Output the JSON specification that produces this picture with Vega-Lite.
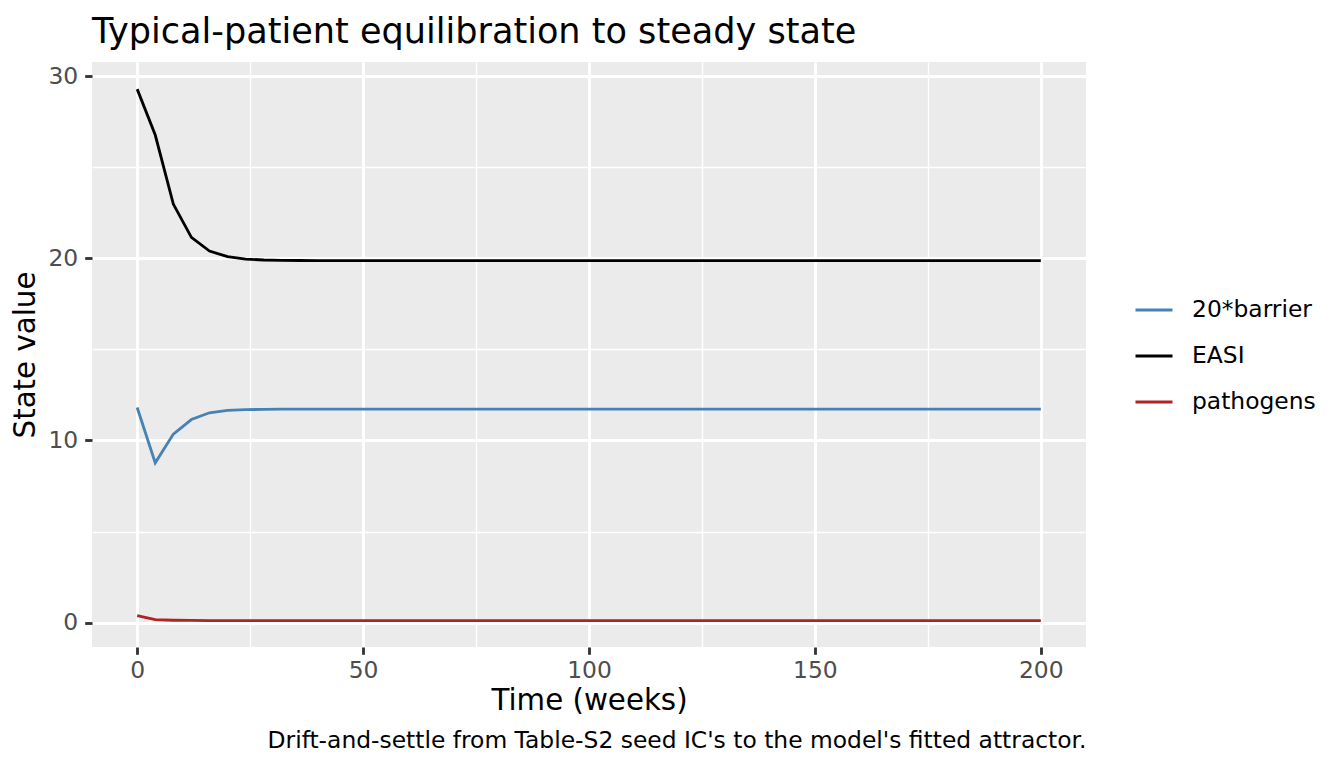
{
  "$schema": "https://vega.github.io/schema/vega-lite/v6.json",
  "autosize": {"type": "none"},
  "padding": {"left": 92, "top": 62, "right": 258, "bottom": 121},
  "width": 994,
  "height": 585,
  "title": {"text": "Typical-patient equilibration to steady state", "anchor": "start", "frame": "group", "fontSize": 35.1, "font": "DejaVu Sans", "fontWeight": "normal", "color": "black", "baseline": "alphabetic", "offset": -16},
  "config": {
    "view": {"fill": "#EBEBEB", "stroke": null},
    "font": "DejaVu Sans",
    "axis": {"domain": false, "labelFont": "DejaVu Sans", "titleFont": "DejaVu Sans", "labelFontSize": 23.4, "labelColor": "#4D4D4D", "titleFontSize": 29.3, "titleFontWeight": "normal", "titleColor": "black", "tickColor": "#333333", "tickWidth": 2.84, "tickSize": 7.3, "gridColor": "white", "labelOverlap": false, "labelFlush": false, "labelBound": false}
  },
  "data": {"values": [
    {"week":0,"series":"20*barrier","value":11.81},{"week":4,"series":"20*barrier","value":8.77},{"week":8,"series":"20*barrier","value":10.35},{"week":12,"series":"20*barrier","value":11.15},{"week":16,"series":"20*barrier","value":11.52},{"week":20,"series":"20*barrier","value":11.65},{"week":24,"series":"20*barrier","value":11.69},{"week":28,"series":"20*barrier","value":11.71},{"week":32,"series":"20*barrier","value":11.72},{"week":36,"series":"20*barrier","value":11.72},{"week":40,"series":"20*barrier","value":11.72},{"week":44,"series":"20*barrier","value":11.72},{"week":48,"series":"20*barrier","value":11.72},{"week":52,"series":"20*barrier","value":11.72},{"week":56,"series":"20*barrier","value":11.72},{"week":60,"series":"20*barrier","value":11.72},{"week":64,"series":"20*barrier","value":11.72},{"week":68,"series":"20*barrier","value":11.72},{"week":72,"series":"20*barrier","value":11.72},{"week":76,"series":"20*barrier","value":11.72},{"week":80,"series":"20*barrier","value":11.72},{"week":84,"series":"20*barrier","value":11.72},{"week":88,"series":"20*barrier","value":11.72},{"week":92,"series":"20*barrier","value":11.72},{"week":96,"series":"20*barrier","value":11.72},{"week":100,"series":"20*barrier","value":11.72},{"week":104,"series":"20*barrier","value":11.72},{"week":108,"series":"20*barrier","value":11.72},{"week":112,"series":"20*barrier","value":11.72},{"week":116,"series":"20*barrier","value":11.72},{"week":120,"series":"20*barrier","value":11.72},{"week":124,"series":"20*barrier","value":11.72},{"week":128,"series":"20*barrier","value":11.72},{"week":132,"series":"20*barrier","value":11.72},{"week":136,"series":"20*barrier","value":11.72},{"week":140,"series":"20*barrier","value":11.72},{"week":144,"series":"20*barrier","value":11.72},{"week":148,"series":"20*barrier","value":11.72},{"week":152,"series":"20*barrier","value":11.72},{"week":156,"series":"20*barrier","value":11.72},{"week":160,"series":"20*barrier","value":11.72},{"week":164,"series":"20*barrier","value":11.72},{"week":168,"series":"20*barrier","value":11.72},{"week":172,"series":"20*barrier","value":11.72},{"week":176,"series":"20*barrier","value":11.72},{"week":180,"series":"20*barrier","value":11.72},{"week":184,"series":"20*barrier","value":11.72},{"week":188,"series":"20*barrier","value":11.72},{"week":192,"series":"20*barrier","value":11.72},{"week":196,"series":"20*barrier","value":11.72},{"week":200,"series":"20*barrier","value":11.72},
    {"week":0,"series":"EASI","value":29.29},{"week":4,"series":"EASI","value":26.77},{"week":8,"series":"EASI","value":22.98},{"week":12,"series":"EASI","value":21.15},{"week":16,"series":"EASI","value":20.40},{"week":20,"series":"EASI","value":20.09},{"week":24,"series":"EASI","value":19.96},{"week":28,"series":"EASI","value":19.91},{"week":32,"series":"EASI","value":19.89},{"week":36,"series":"EASI","value":19.88},{"week":40,"series":"EASI","value":19.87},{"week":44,"series":"EASI","value":19.87},{"week":48,"series":"EASI","value":19.87},{"week":52,"series":"EASI","value":19.87},{"week":56,"series":"EASI","value":19.87},{"week":60,"series":"EASI","value":19.87},{"week":64,"series":"EASI","value":19.87},{"week":68,"series":"EASI","value":19.87},{"week":72,"series":"EASI","value":19.87},{"week":76,"series":"EASI","value":19.87},{"week":80,"series":"EASI","value":19.87},{"week":84,"series":"EASI","value":19.87},{"week":88,"series":"EASI","value":19.87},{"week":92,"series":"EASI","value":19.87},{"week":96,"series":"EASI","value":19.87},{"week":100,"series":"EASI","value":19.87},{"week":104,"series":"EASI","value":19.87},{"week":108,"series":"EASI","value":19.87},{"week":112,"series":"EASI","value":19.87},{"week":116,"series":"EASI","value":19.87},{"week":120,"series":"EASI","value":19.87},{"week":124,"series":"EASI","value":19.87},{"week":128,"series":"EASI","value":19.87},{"week":132,"series":"EASI","value":19.87},{"week":136,"series":"EASI","value":19.87},{"week":140,"series":"EASI","value":19.87},{"week":144,"series":"EASI","value":19.87},{"week":148,"series":"EASI","value":19.87},{"week":152,"series":"EASI","value":19.87},{"week":156,"series":"EASI","value":19.87},{"week":160,"series":"EASI","value":19.87},{"week":164,"series":"EASI","value":19.87},{"week":168,"series":"EASI","value":19.87},{"week":172,"series":"EASI","value":19.87},{"week":176,"series":"EASI","value":19.87},{"week":180,"series":"EASI","value":19.87},{"week":184,"series":"EASI","value":19.87},{"week":188,"series":"EASI","value":19.87},{"week":192,"series":"EASI","value":19.87},{"week":196,"series":"EASI","value":19.87},{"week":200,"series":"EASI","value":19.87},
    {"week":0,"series":"pathogens","value":0.38},{"week":4,"series":"pathogens","value":0.16},{"week":8,"series":"pathogens","value":0.13},{"week":12,"series":"pathogens","value":0.12},{"week":16,"series":"pathogens","value":0.11},{"week":20,"series":"pathogens","value":0.11},{"week":24,"series":"pathogens","value":0.11},{"week":28,"series":"pathogens","value":0.11},{"week":32,"series":"pathogens","value":0.11},{"week":36,"series":"pathogens","value":0.11},{"week":40,"series":"pathogens","value":0.11},{"week":44,"series":"pathogens","value":0.11},{"week":48,"series":"pathogens","value":0.11},{"week":52,"series":"pathogens","value":0.11},{"week":56,"series":"pathogens","value":0.11},{"week":60,"series":"pathogens","value":0.11},{"week":64,"series":"pathogens","value":0.11},{"week":68,"series":"pathogens","value":0.11},{"week":72,"series":"pathogens","value":0.11},{"week":76,"series":"pathogens","value":0.11},{"week":80,"series":"pathogens","value":0.11},{"week":84,"series":"pathogens","value":0.11},{"week":88,"series":"pathogens","value":0.11},{"week":92,"series":"pathogens","value":0.11},{"week":96,"series":"pathogens","value":0.11},{"week":100,"series":"pathogens","value":0.11},{"week":104,"series":"pathogens","value":0.11},{"week":108,"series":"pathogens","value":0.11},{"week":112,"series":"pathogens","value":0.11},{"week":116,"series":"pathogens","value":0.11},{"week":120,"series":"pathogens","value":0.11},{"week":124,"series":"pathogens","value":0.11},{"week":128,"series":"pathogens","value":0.11},{"week":132,"series":"pathogens","value":0.11},{"week":136,"series":"pathogens","value":0.11},{"week":140,"series":"pathogens","value":0.11},{"week":144,"series":"pathogens","value":0.11},{"week":148,"series":"pathogens","value":0.11},{"week":152,"series":"pathogens","value":0.11},{"week":156,"series":"pathogens","value":0.11},{"week":160,"series":"pathogens","value":0.11},{"week":164,"series":"pathogens","value":0.11},{"week":168,"series":"pathogens","value":0.11},{"week":172,"series":"pathogens","value":0.11},{"week":176,"series":"pathogens","value":0.11},{"week":180,"series":"pathogens","value":0.11},{"week":184,"series":"pathogens","value":0.11},{"week":188,"series":"pathogens","value":0.11},{"week":192,"series":"pathogens","value":0.11},{"week":196,"series":"pathogens","value":0.11},{"week":200,"series":"pathogens","value":0.11}
  ]},
  "encoding": {
    "y": {"field": "value", "type": "quantitative", "scale": {"domain": [-1.34, 30.78], "nice": false, "zero": false},
      "axis": {"title": "State value", "values": [0, 5, 10, 15, 20, 25, 30], "labelExpr": "datum.value % 10 === 0 ? datum.label : ''", "labelPadding": 7, "titlePadding": 7, "gridWidth": {"condition": {"test": "datum.value % 10 === 0", "value": 2.84}, "value": 1.42}, "tickOpacity": {"condition": {"test": "datum.value % 10 === 0", "value": 1}, "value": 0}}},
    "color": {"field": "series", "type": "nominal", "scale": {"domain": ["20*barrier", "EASI", "pathogens"], "range": ["#4682B4", "#000000", "#B22222"]},
      "legend": {"title": null, "orient": "none", "legendX": 1042, "legendY": 228, "padding": 0, "symbolType": "stroke", "symbolSize": 1369, "symbolStrokeWidth": 2.84, "labelFontSize": 23.4, "labelFont": "DejaVu Sans", "labelColor": "black", "labelOffset": 18, "rowPadding": 14}}
  },
  "layer": [
    {
      "transform": [{"filter": "datum.series !== 'pathogens'"}],
      "mark": {"type": "line", "strokeWidth": 2.84},
      "encoding": {
        "x": {"field": "week", "type": "quantitative", "scale": {"domain": [-10, 210], "nice": false, "zero": false},
          "axis": {"title": "Time (weeks)", "values": [0, 25, 50, 75, 100, 125, 150, 175, 200], "labelExpr": "datum.value % 50 === 0 ? datum.label : ''", "labelPadding": 5, "titlePadding": 5, "gridWidth": {"condition": {"test": "datum.value % 50 === 0", "value": 2.84}, "value": 1.42}, "tickOpacity": {"condition": {"test": "datum.value % 50 === 0", "value": 1}, "value": 0}}}
      }
    },
    {
      "transform": [{"filter": "datum.series === 'pathogens'"}],
      "mark": {"type": "line", "strokeWidth": 2.84},
      "encoding": {
        "x": {"field": "week", "type": "quantitative", "scale": {"domain": [-10, 210], "nice": false, "zero": false},
          "axis": {"title": "Drift-and-settle from Table-S2 seed IC's to the model's fitted attractor.", "orient": "bottom", "labels": false, "ticks": false, "grid": false, "domain": false, "titleAnchor": "end", "titleFontSize": 23.4, "titleFontWeight": "normal", "titleColor": "black", "titlePadding": 82.4}}
      }
    }
  ],
  "resolve": {"axis": {"x": "independent"}}
}
